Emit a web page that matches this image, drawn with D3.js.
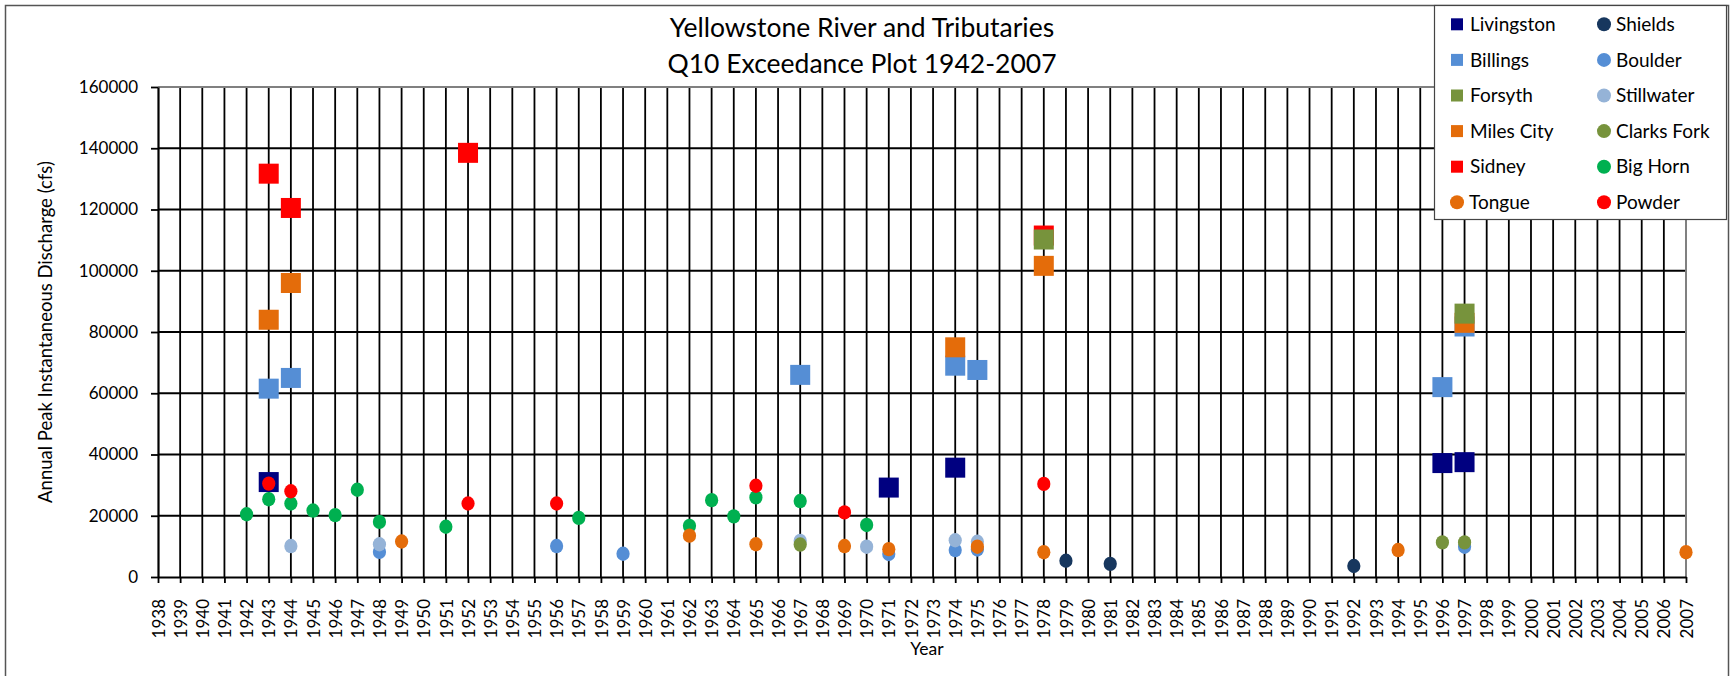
<!DOCTYPE html>
<html>
<head>
<meta charset="utf-8">
<script src="https://cdn.jsdelivr.net/npm/d3@7"></script>
<style>
  html, body { margin: 0; padding: 0; background: #fff; }
  svg text { font-family: Lato, "Open Sans", sans-serif; fill: #000; }
</style>
</head>
<body>
<div id="chart"></div>
<script>
// axis ranges and ticks
const yearDomain = [1938, 2007]
const yTicks = [0, 20000, 40000, 60000, 80000, 100000, 120000, 140000, 160000]

// gauge sites, [year, peak cfs]
const livingston = [[1943, 31000], [1971, 29200], [1974, 35700], [1996, 37200], [1997, 37500]]
const shields = [[1979, 5300], [1981, 4300], [1992, 3600]]
const billings = [[1943, 61500], [1944, 65000], [1967, 66000], [1974, 69000], [1975, 67600], [1996, 62000], [1997, 81800]]
const boulder = [[1948, 8200], [1956, 10100], [1959, 7600], [1971, 7500], [1974, 8800], [1975, 9000], [1997, 9900]]
const forsyth = [[1978, 110200], [1997, 86000]]
const stillwater = [[1944, 10100], [1948, 10700], [1967, 11800], [1970, 9900], [1974, 12000], [1975, 11500]]
const milesCity = [[1943, 84000], [1944, 96000], [1974, 75000], [1978, 101600], [1997, 83000]]
const clarksFork = [[1967, 10600], [1996, 11300], [1997, 11300]]
const sidney = [[1943, 131700], [1944, 120500], [1952, 138500], [1978, 111500]]
const bigHorn = [[1942, 20500], [1943, 25400], [1944, 24000], [1945, 21700], [1946, 20200], [1947, 28500], [1948, 18000],
  [1951, 16400], [1957, 19300], [1962, 16700], [1963, 25100], [1964, 19800], [1965, 26000], [1967, 24800], [1970, 17000]]
const tongue = [[1949, 11600], [1962, 13500], [1965, 10700], [1969, 10100], [1971, 9100], [1975, 9900], [1978, 8100], [1994, 8800], [2007, 8100]]
const powder = [[1943, 30500], [1944, 28000], [1952, 24000], [1956, 24000], [1965, 29800], [1969, 21100], [1978, 30400]]

// legend order (row by row), shape and colour
const series = [
  { name: 'Livingston', data: livingston, shape: 'square', color: '#000080' },
  { name: 'Shields', data: shields, shape: 'circle', color: '#17375e' },
  { name: 'Billings', data: billings, shape: 'square', color: '#558ed5' },
  { name: 'Boulder', data: boulder, shape: 'circle', color: '#558ed5' },
  { name: 'Forsyth', data: forsyth, shape: 'square', color: '#77933c' },
  { name: 'Stillwater', data: stillwater, shape: 'circle', color: '#95b3d7' },
  { name: 'Miles City', data: milesCity, shape: 'square', color: '#e46c0a' },
  { name: 'Clarks Fork', data: clarksFork, shape: 'circle', color: '#77933c' },
  { name: 'Sidney', data: sidney, shape: 'square', color: '#ff0000' },
  { name: 'Big Horn', data: bigHorn, shape: 'circle', color: '#00b050' },
  { name: 'Tongue', data: tongue, shape: 'circle', color: '#e46c0a' },
  { name: 'Powder', data: powder, shape: 'circle', color: '#ff0000' }
]
// paint order so overlaps match the original
const drawOrder = ['Livingston', 'Billings', 'Miles City', 'Sidney', 'Forsyth', 'Shields', 'Boulder',
  'Stillwater', 'Clarks Fork', 'Big Horn', 'Tongue', 'Powder']

const width = 1730
const height = 676
const plot = { left: 158, right: 1686, top: 87, bottom: 577 }

const svg = d3.select('#chart')
  .append('svg')
  .attr('width', width)
  .attr('height', height)

// chart frame
svg.append('rect')
  .attr('x', 5.5).attr('y', 5.5)
  .attr('width', 1723).attr('height', 720)
  .attr('fill', '#fff')
  .attr('stroke', '#555')
  .attr('stroke-width', 1.5)

const x = d3.scaleLinear().domain(yearDomain).range([plot.left, plot.right])
const y = d3.scaleLinear().domain([0, 160000]).range([plot.bottom, plot.top])
const years = d3.range(yearDomain[0], yearDomain[1] + 1)

// grid
const grid = svg.append('g').attr('class', 'grid')
grid.selectAll('.vline')
  .data(years.slice(1, -1))
  .enter().append('line')
  .attr('x1', d => x(d)).attr('x2', d => x(d))
  .attr('y1', plot.top).attr('y2', plot.bottom)
  .attr('stroke', '#000').attr('stroke-width', 1.8)
grid.selectAll('.hline')
  .data(yTicks.slice(1, -1))
  .enter().append('line')
  .attr('x1', plot.left).attr('x2', plot.right)
  .attr('y1', d => y(d)).attr('y2', d => y(d))
  .attr('stroke', '#000').attr('stroke-width', 1.8)

// plot area border (top / right)
svg.append('path')
  .attr('d', `M${plot.left},${plot.top}H${plot.right}V${plot.bottom}`)
  .attr('fill', 'none')
  .attr('stroke', '#808080')
  .attr('stroke-width', 2)

// x axis
const xAxis = svg.append('g')
  .attr('transform', `translate(0,${plot.bottom})`)
  .call(d3.axisBottom(x).tickValues(years).tickFormat(d3.format('d')).tickSize(6).tickSizeOuter(0))
xAxis.select('.domain').attr('stroke', '#000').attr('stroke-width', 2)
xAxis.selectAll('.tick line').attr('stroke', '#000').attr('stroke-width', 1.8)
xAxis.selectAll('.tick text')
  .attr('transform', 'rotate(-90)')
  .attr('x', -22).attr('y', 0).attr('dy', '0.36em')
  .attr('text-anchor', 'end')
  .style('font-size', '17px')

// y axis
const yAxis = svg.append('g')
  .attr('transform', `translate(${plot.left},0)`)
  .call(d3.axisLeft(y).tickValues(yTicks).tickFormat(d3.format('d')).tickSize(7).tickPadding(13).tickSizeOuter(0))
yAxis.select('.domain').attr('stroke', '#000').attr('stroke-width', 2.2)
yAxis.selectAll('.tick line').attr('stroke', '#000').attr('stroke-width', 1.8)
yAxis.selectAll('.tick text').style('font-size', '17px')

// titles
const title = svg.append('text')
  .attr('x', 862).attr('y', 37)
  .attr('text-anchor', 'middle')
  .style('font-size', '26.5px')
title.append('tspan').attr('x', 862).text('Yellowstone River and Tributaries')
title.append('tspan').attr('x', 862).attr('dy', 36).text('Q10 Exceedance Plot 1942-2007')

svg.append('text')
  .attr('x', 927).attr('y', 655)
  .attr('text-anchor', 'middle')
  .style('font-size', '17.5px')
  .text('Year')

svg.append('text')
  .attr('transform', `translate(52,${(plot.top + plot.bottom) / 2}) rotate(-90)`)
  .attr('text-anchor', 'middle')
  .style('font-size', '18.5px')
  .text('Annual Peak Instantaneous Discharge (cfs)')

// markers
const marks = svg.append('g').attr('class', 'marks')
drawOrder.forEach(name => {
  const s = series.find(d => d.name === name)
  const g = marks.append('g').attr('class', 'series')
  if (s.shape === 'square') {
    g.selectAll('rect')
      .data(s.data)
      .enter().append('rect')
      .attr('x', d => x(d[0]) - 10)
      .attr('y', d => y(d[1]) - 10)
      .attr('width', 20).attr('height', 20)
      .attr('fill', s.color)
  } else {
    g.selectAll('ellipse')
      .data(s.data)
      .enter().append('ellipse')
      .attr('cx', d => x(d[0]))
      .attr('cy', d => y(d[1]))
      .attr('rx', 6.6).attr('ry', 7.2)
      .attr('fill', s.color)
  }
})

// legend
const legend = svg.append('g').attr('class', 'legend')
legend.append('rect')
  .attr('x', 1434.5).attr('y', 5.5)
  .attr('width', 292).attr('height', 214)
  .attr('fill', '#fff')
  .attr('stroke', '#444')
  .attr('stroke-width', 1.2)
const item = legend.selectAll('.item')
  .data(series)
  .enter().append('g')
  .attr('class', 'item')
  .attr('transform', (d, i) => `translate(${i % 2 === 0 ? 1457 : 1604},${24.3 + Math.floor(i / 2) * 35.6})`)
item.filter(d => d.shape === 'square').append('rect')
  .attr('x', -6).attr('y', -6).attr('width', 12).attr('height', 12)
  .attr('fill', d => d.color)
item.filter(d => d.shape === 'circle').append('circle')
  .attr('r', 7)
  .attr('fill', d => d.color)
item.append('text')
  .attr('x', d => d.shape === 'square' ? 13 : 12)
  .attr('dy', '0.35em')
  .style('font-size', '19px')
  .text(d => d.name)
</script>
</body>
</html>
